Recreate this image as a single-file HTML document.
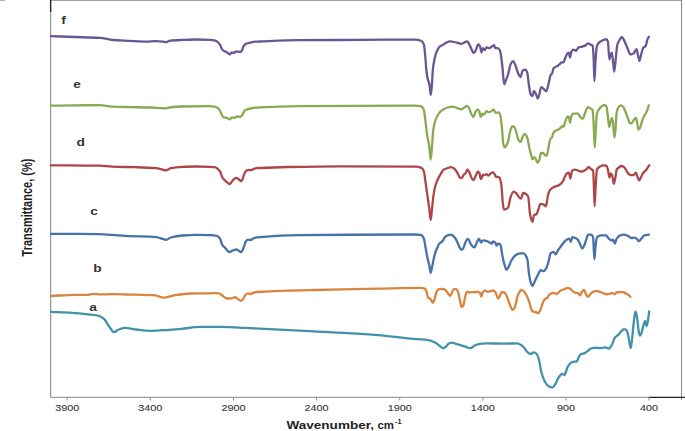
<!DOCTYPE html>
<html><head><meta charset="utf-8"><style>
html,body{margin:0;padding:0;background:#fff;}
body{width:685px;height:431px;overflow:hidden;position:relative;font-family:"Liberation Sans",sans-serif;}
svg{position:absolute;left:0;top:0;}
</style></head><body>
<svg width="685" height="431" viewBox="0 0 685 431">
<rect x="0" y="0" width="685" height="431" fill="#fff"/>
<line x1="0" y1="0.5" x2="5" y2="0.5" stroke="#b0b0b0" stroke-width="1"/>
<line x1="50" y1="0.5" x2="682" y2="0.5" stroke="#a0a0a0" stroke-width="1.2"/>
<line x1="681.5" y1="0" x2="681.5" y2="400" stroke="#858585" stroke-width="1"/>
<line x1="50.6" y1="0" x2="50.6" y2="397.5" stroke="#9a9a9a" stroke-width="1.3"/>
<line x1="50.6" y1="0" x2="50.6" y2="12" stroke="#222" stroke-width="1.3"/>
<line x1="50" y1="397.3" x2="648.5" y2="397.3" stroke="#a0a0a0" stroke-width="1.3"/>
<line x1="648.5" y1="397.3" x2="685" y2="397.3" stroke="#222" stroke-width="1.3"/>
<g stroke="#909090" stroke-width="1">
<line x1="67.2" y1="397" x2="67.2" y2="400.5"/>
<line x1="150.3" y1="397" x2="150.3" y2="400.5"/>
<line x1="233.5" y1="397" x2="233.5" y2="400.5"/>
<line x1="316.6" y1="397" x2="316.6" y2="400.5"/>
<line x1="399.7" y1="397" x2="399.7" y2="400.5"/>
<line x1="482.8" y1="397" x2="482.8" y2="400.5"/>
<line x1="566.0" y1="397" x2="566.0" y2="400.5"/>
<line x1="649.1" y1="397" x2="649.1" y2="400.5"/>
</g>
<g fill="none" stroke-width="2.3" stroke-linejoin="round" stroke-linecap="round">
<path d="M51.00,36.20 C59.00,36.47 67.00,36.72 75.00,37.00 C83.33,37.29 91.67,37.37 100.00,37.90 C104.33,38.17 108.67,39.68 113.00,40.00 C118.67,40.42 124.33,40.53 130.00,40.80 C135.33,41.06 140.67,41.60 146.00,41.60 C149.33,41.60 152.67,41.20 156.00,41.20 C158.33,41.20 160.67,41.45 163.00,41.70 C164.00,41.81 165.00,42.20 166.00,42.20 C167.13,42.20 168.27,40.95 169.40,40.80 C173.80,40.20 178.20,40.09 182.60,39.90 C186.97,39.72 191.33,39.50 195.70,39.50 C200.47,39.50 205.23,39.61 210.00,39.80 C211.47,39.86 212.93,40.02 214.40,40.30 C215.37,40.48 216.33,40.96 217.30,41.60 C218.27,42.24 219.23,43.63 220.20,45.20 C220.80,46.18 221.40,48.37 222.00,49.20 C222.63,50.08 223.27,50.74 223.90,51.10 C224.87,51.65 225.83,51.72 226.80,52.20 C227.77,52.68 228.73,54.30 229.70,54.30 C230.43,54.30 231.17,52.50 231.90,52.50 C232.63,52.50 233.37,52.90 234.10,52.90 C234.83,52.90 235.57,51.40 236.30,51.40 C237.77,51.40 239.23,51.80 240.70,51.80 C241.17,51.80 241.63,51.02 242.10,50.30 C242.60,49.52 243.10,46.68 243.60,46.00 C244.57,44.68 245.53,43.98 246.50,43.60 C247.70,43.13 248.90,42.96 250.10,42.70 C251.83,42.32 253.57,41.82 255.30,41.70 C256.87,41.59 258.43,41.56 260.00,41.50 C273.33,40.99 286.67,40.32 300.00,40.20 C320.00,40.02 340.00,40.00 360.00,39.90 C378.33,39.80 396.67,39.60 415.00,39.60 C417.17,39.60 419.33,40.08 421.50,41.00 C422.30,41.34 423.10,42.40 423.90,44.60 C424.30,45.70 424.70,50.46 425.10,54.40 C425.53,58.66 425.97,67.00 426.40,70.60 C426.83,74.20 427.27,76.75 427.70,78.70 C428.33,81.55 428.97,81.95 429.60,85.20 C429.97,87.08 430.33,94.90 430.70,94.90 C431.13,94.90 431.57,88.60 432.00,83.60 C432.30,80.14 432.60,71.79 432.90,69.00 C433.43,64.05 433.97,61.57 434.50,59.20 C435.30,55.65 436.10,52.78 436.90,51.10 C438.00,48.78 439.10,47.02 440.20,46.20 C441.27,45.40 442.33,45.21 443.40,44.60 C444.20,44.14 445.00,43.40 445.80,43.00 C447.17,42.31 448.53,41.40 449.90,41.40 C452.20,41.40 454.50,42.10 456.80,42.60 C458.33,42.94 459.87,43.90 461.40,43.90 C462.33,43.90 463.27,43.03 464.20,42.60 C465.13,42.17 466.07,41.30 467.00,41.30 C467.63,41.30 468.27,42.63 468.90,43.60 C469.50,44.52 470.10,46.08 470.70,47.30 C471.63,49.19 472.57,52.90 473.50,52.90 C474.13,52.90 474.77,51.86 475.40,51.00 C476.33,49.73 477.27,44.50 478.20,44.50 C478.80,44.50 479.40,45.38 480.00,46.40 C480.50,47.25 481.00,52.50 481.50,52.50 C481.93,52.50 482.37,48.20 482.80,48.20 C483.43,48.20 484.07,50.10 484.70,50.10 C485.30,50.10 485.90,47.30 486.50,47.30 C487.43,47.30 488.37,48.20 489.30,48.20 C490.23,48.20 491.17,47.02 492.10,46.40 C492.73,45.98 493.37,45.10 494.00,45.10 C494.43,45.10 494.87,48.20 495.30,48.20 C496.10,48.20 496.90,48.20 497.70,48.20 C498.50,48.20 499.30,49.39 500.10,51.00 C500.83,52.47 501.57,60.02 502.30,65.90 C502.93,70.98 503.57,84.40 504.20,84.40 C504.80,84.40 505.40,81.29 506.00,79.80 C506.63,78.22 507.27,77.08 507.90,75.20 C508.83,72.43 509.77,65.66 510.70,64.00 C511.50,62.57 512.30,61.20 513.10,61.20 C513.83,61.20 514.57,63.42 515.30,65.00 C516.23,67.02 517.17,71.42 518.10,73.30 C518.90,74.91 519.70,77.00 520.50,77.00 C521.23,77.00 521.97,70.94 522.70,70.50 C523.63,69.94 524.57,69.60 525.50,69.60 C526.13,69.60 526.77,71.27 527.40,73.30 C527.90,74.90 528.40,82.03 528.90,85.10 C529.57,89.20 530.23,94.28 530.90,95.00 C531.43,95.58 531.97,96.00 532.50,96.00 C532.97,96.00 533.43,91.00 533.90,91.00 C534.57,91.00 535.23,92.77 535.90,94.00 C536.53,95.17 537.17,98.50 537.80,98.50 C538.27,98.50 538.73,96.41 539.20,95.00 C539.87,92.99 540.53,87.10 541.20,87.10 C542.03,87.10 542.87,88.31 543.70,89.00 C544.57,89.72 545.43,91.40 546.30,91.40 C546.97,91.40 547.63,87.52 548.30,85.10 C549.07,82.32 549.83,76.58 550.60,75.20 C551.13,74.24 551.67,74.26 552.20,73.30 C552.67,72.46 553.13,68.85 553.60,68.30 C554.60,67.12 555.60,67.06 556.60,66.40 C557.57,65.76 558.53,65.20 559.50,64.40 C560.17,63.85 560.83,62.40 561.50,62.40 C562.17,62.40 562.83,62.40 563.50,62.40 C564.13,62.40 564.77,58.93 565.40,57.50 C566.07,56.00 566.73,54.13 567.40,53.50 C567.87,53.06 568.33,52.60 568.80,52.60 C569.20,52.60 569.60,57.50 570.00,57.50 C570.47,57.50 570.93,52.41 571.40,51.60 C572.03,50.50 572.67,49.60 573.30,49.60 C574.30,49.60 575.30,50.60 576.30,50.60 C576.97,50.60 577.63,47.92 578.30,47.60 C579.60,46.98 580.90,46.98 582.20,46.60 C583.20,46.31 584.20,46.07 585.20,45.60 C586.17,45.15 587.13,43.30 588.10,43.30 C588.97,43.30 589.83,44.28 590.70,44.70 C591.37,45.03 592.03,44.95 592.70,45.60 C593.03,45.92 593.37,52.96 593.70,59.50 C593.93,64.08 594.17,81.20 594.40,81.20 C594.80,81.20 595.20,64.67 595.60,59.50 C596.07,53.47 596.53,46.78 597.00,45.60 C598.00,43.06 599.00,42.40 600.00,41.70 C600.97,41.02 601.93,40.70 602.90,40.30 C604.03,39.84 605.17,39.10 606.30,39.10 C606.83,39.10 607.37,40.16 607.90,41.70 C608.40,43.14 608.90,59.50 609.40,59.50 C609.73,59.50 610.07,56.43 610.40,55.50 C610.87,54.20 611.33,52.60 611.80,52.60 C612.13,52.60 612.47,56.95 612.80,59.50 C613.27,63.07 613.73,71.70 614.20,71.70 C614.70,71.70 615.20,63.82 615.70,59.50 C616.23,54.89 616.77,46.59 617.30,44.70 C618.10,41.86 618.90,41.06 619.70,39.70 C620.37,38.57 621.03,36.80 621.70,36.80 C622.20,36.80 622.70,37.93 623.20,38.70 C624.00,39.94 624.80,41.90 625.60,43.70 C626.40,45.50 627.20,47.85 628.00,49.60 C628.83,51.42 629.67,54.50 630.50,54.50 C631.50,54.50 632.50,54.04 633.50,53.50 C634.50,52.96 635.50,49.20 636.50,49.20 C636.93,49.20 637.37,52.74 637.80,54.50 C638.33,56.67 638.87,61.00 639.40,61.00 C640.07,61.00 640.73,55.70 641.40,53.50 C642.07,51.30 642.73,48.36 643.40,47.60 C644.17,46.72 644.93,46.95 645.70,46.00 C646.23,45.34 646.77,41.02 647.30,39.70 C647.83,38.38 648.37,37.77 648.90,36.80" stroke="#6b5694"/>
<path d="M51.00,105.70 C59.00,105.60 67.00,105.48 75.00,105.40 C83.33,105.32 91.67,105.20 100.00,105.20 C102.00,105.20 104.00,105.56 106.00,105.80 C108.00,106.04 110.00,106.61 112.00,106.70 C118.00,106.97 124.00,106.97 130.00,107.10 C136.67,107.24 143.33,107.30 150.00,107.50 C154.33,107.63 158.67,107.94 163.00,108.20 C164.00,108.26 165.00,108.40 166.00,108.40 C167.13,108.40 168.27,107.65 169.40,107.50 C173.80,106.92 178.20,106.60 182.60,106.50 C191.33,106.31 200.07,106.20 208.80,106.20 C210.67,106.20 212.53,106.36 214.40,106.60 C215.37,106.73 216.33,107.15 217.30,107.70 C218.27,108.25 219.23,109.47 220.20,111.00 C220.80,111.95 221.40,114.36 222.00,115.30 C222.63,116.29 223.27,117.33 223.90,117.50 C224.87,117.75 225.83,117.69 226.80,117.90 C227.77,118.11 228.73,119.30 229.70,119.30 C230.43,119.30 231.17,117.50 231.90,117.50 C232.87,117.50 233.83,117.90 234.80,117.90 C235.53,117.90 236.27,116.40 237.00,116.40 C238.23,116.40 239.47,116.80 240.70,116.80 C241.30,116.80 241.90,115.51 242.50,114.60 C243.10,113.69 243.70,111.53 244.30,111.00 C245.53,109.92 246.77,109.52 248.00,109.10 C249.43,108.61 250.87,108.20 252.30,108.00 C254.87,107.64 257.43,107.42 260.00,107.30 C273.33,106.66 286.67,106.33 300.00,106.20 C338.33,105.82 376.67,105.60 415.00,105.60 C417.17,105.60 419.33,105.83 421.50,106.40 C422.30,106.61 423.10,108.05 423.90,110.20 C424.47,111.73 425.03,118.09 425.60,122.40 C426.13,126.45 426.67,131.81 427.20,135.30 C427.90,139.88 428.60,141.82 429.30,146.70 C429.77,149.95 430.23,159.70 430.70,159.70 C431.13,159.70 431.57,151.69 432.00,146.70 C432.40,142.10 432.80,133.51 433.20,130.50 C433.73,126.49 434.27,124.31 434.80,122.40 C435.50,119.89 436.20,118.07 436.90,116.70 C438.00,114.54 439.10,112.89 440.20,111.80 C441.27,110.74 442.33,110.02 443.40,109.40 C444.77,108.61 446.13,107.83 447.50,107.50 C449.13,107.10 450.77,106.70 452.40,106.70 C454.00,106.70 455.60,107.53 457.20,108.00 C458.57,108.40 459.93,109.30 461.30,109.30 C462.10,109.30 462.90,108.44 463.70,108.00 C464.90,107.34 466.10,106.00 467.30,106.00 C468.00,106.00 468.70,107.55 469.40,108.80 C470.10,110.05 470.80,113.34 471.50,114.50 C472.17,115.61 472.83,116.90 473.50,116.90 C474.13,116.90 474.77,113.21 475.40,112.10 C476.10,110.87 476.80,109.30 477.50,109.30 C478.07,109.30 478.63,110.23 479.20,111.20 C479.73,112.11 480.27,116.90 480.80,116.90 C481.33,116.90 481.87,113.70 482.40,113.70 C482.93,113.70 483.47,114.50 484.00,114.50 C484.83,114.50 485.67,111.20 486.50,111.20 C487.30,111.20 488.10,112.10 488.90,112.10 C489.70,112.10 490.50,111.58 491.30,111.20 C492.13,110.81 492.97,109.60 493.80,109.60 C494.33,109.60 494.87,112.90 495.40,112.90 C496.50,112.90 497.60,112.50 498.70,112.50 C499.23,112.50 499.77,113.78 500.30,115.30 C500.83,116.82 501.37,122.54 501.90,127.50 C502.37,131.84 502.83,142.12 503.30,144.00 C503.77,145.88 504.23,147.40 504.70,147.40 C505.17,147.40 505.63,146.63 506.10,146.00 C506.80,145.05 507.50,143.40 508.20,141.20 C508.90,139.00 509.60,132.80 510.30,130.70 C511.00,128.60 511.70,126.20 512.40,126.20 C513.10,126.20 513.80,126.68 514.50,127.30 C515.20,127.92 515.90,131.31 516.60,133.50 C517.30,135.69 518.00,139.69 518.70,140.50 C519.37,141.27 520.03,141.90 520.70,141.90 C521.40,141.90 522.10,137.32 522.80,136.30 C523.50,135.28 524.20,134.20 524.90,134.20 C525.70,134.20 526.50,135.85 527.30,137.70 C527.90,139.09 528.50,144.03 529.10,146.70 C529.80,149.82 530.50,152.72 531.20,155.10 C531.67,156.68 532.13,159.30 532.60,159.30 C533.13,159.30 533.67,157.20 534.20,157.20 C534.67,157.20 535.13,157.96 535.60,158.60 C536.20,159.43 536.80,162.80 537.40,162.80 C538.03,162.80 538.67,161.42 539.30,160.00 C539.83,158.81 540.37,153.00 540.90,153.00 C541.60,153.00 542.30,153.00 543.00,153.00 C543.70,153.00 544.40,154.70 545.10,155.10 C545.67,155.43 546.23,155.80 546.80,155.80 C547.40,155.80 548.00,149.46 548.60,146.70 C549.20,143.94 549.80,140.24 550.40,139.10 C550.97,138.02 551.53,138.03 552.10,137.00 C552.53,136.21 552.97,133.49 553.40,132.80 C554.10,131.68 554.80,131.15 555.50,130.70 C556.43,130.10 557.37,129.92 558.30,129.40 C559.00,129.01 559.70,128.56 560.40,128.00 C561.10,127.44 561.80,125.90 562.50,125.90 C562.83,125.90 563.17,126.90 563.50,126.90 C564.17,126.90 564.83,122.32 565.50,120.70 C566.20,119.00 566.90,116.50 567.60,116.50 C568.07,116.50 568.53,116.75 569.00,117.20 C569.33,117.52 569.67,122.70 570.00,122.70 C570.37,122.70 570.73,118.17 571.10,117.20 C571.80,115.35 572.50,113.70 573.20,113.70 C573.90,113.70 574.60,113.70 575.30,113.70 C575.97,113.70 576.63,113.30 577.30,113.30 C578.00,113.30 578.70,114.68 579.40,115.50 C580.10,116.32 580.80,118.05 581.50,118.30 C581.97,118.46 582.43,118.60 582.90,118.60 C583.60,118.60 584.30,114.77 585.00,113.00 C585.67,111.32 586.33,108.91 587.00,108.20 C587.47,107.70 587.93,107.20 588.40,107.20 C588.87,107.20 589.33,107.96 589.80,108.20 C590.40,108.51 591.00,108.51 591.60,108.90 C591.93,109.11 592.27,109.46 592.60,110.30 C592.93,111.14 593.27,117.38 593.60,122.70 C593.97,128.56 594.33,147.70 594.70,147.70 C595.07,147.70 595.43,135.50 595.80,129.70 C596.13,124.43 596.47,115.90 596.80,114.40 C597.47,111.39 598.13,110.65 598.80,109.60 C599.73,108.13 600.67,107.05 601.60,106.40 C602.53,105.75 603.47,105.00 604.40,105.00 C605.10,105.00 605.80,105.66 606.50,106.80 C606.93,107.50 607.37,112.60 607.80,115.80 C608.27,119.25 608.73,126.90 609.20,126.90 C609.67,126.90 610.13,122.83 610.60,121.40 C611.07,119.97 611.53,117.90 612.00,117.90 C612.33,117.90 612.67,120.55 613.00,122.70 C613.47,125.71 613.93,137.30 614.40,137.30 C614.77,137.30 615.13,133.18 615.50,129.70 C615.87,126.22 616.23,115.05 616.60,113.00 C617.17,109.83 617.73,108.25 618.30,107.50 C619.20,106.32 620.10,105.40 621.00,105.40 C621.70,105.40 622.40,106.10 623.10,106.80 C623.80,107.50 624.50,109.40 625.20,111.00 C626.13,113.13 627.07,116.23 628.00,118.60 C628.67,120.29 629.33,123.40 630.00,123.40 C630.70,123.40 631.40,123.09 632.10,122.70 C632.80,122.31 633.50,120.03 634.20,119.30 C634.80,118.68 635.40,117.90 636.00,117.90 C636.33,117.90 636.67,120.45 637.00,122.00 C637.47,124.17 637.93,129.70 638.40,129.70 C638.87,129.70 639.33,128.99 639.80,128.30 C640.47,127.32 641.13,123.91 641.80,122.00 C642.50,120.00 643.20,117.93 643.90,116.50 C644.60,115.07 645.30,114.39 646.00,113.00 C646.57,111.88 647.13,110.47 647.70,108.90 C648.07,107.88 648.43,106.57 648.80,105.40" stroke="#8aaa52"/>
<path d="M51.00,165.30 C67.33,165.43 83.67,165.41 100.00,165.70 C104.00,165.77 108.00,166.55 112.00,166.70 C119.67,166.98 127.33,166.97 135.00,167.20 C142.10,167.41 149.20,167.57 156.30,168.20 C158.20,168.37 160.10,169.10 162.00,169.50 C163.37,169.79 164.73,170.30 166.10,170.30 C167.63,170.30 169.17,168.50 170.70,168.20 C174.67,167.43 178.63,167.09 182.60,166.90 C186.97,166.69 191.33,166.50 195.70,166.50 C200.47,166.50 205.23,166.62 210.00,166.80 C211.47,166.86 212.93,166.97 214.40,167.20 C215.37,167.35 216.33,167.81 217.30,168.40 C218.27,168.99 219.23,170.13 220.20,171.70 C220.93,172.89 221.67,176.30 222.40,177.50 C223.13,178.70 223.87,179.36 224.60,180.10 C225.57,181.07 226.53,181.87 227.50,182.60 C228.23,183.16 228.97,184.10 229.70,184.10 C230.43,184.10 231.17,182.35 231.90,181.50 C232.63,180.65 233.37,179.51 234.10,179.00 C234.83,178.49 235.57,177.90 236.30,177.90 C237.03,177.90 237.77,178.54 238.50,179.00 C239.33,179.53 240.17,181.20 241.00,181.20 C241.50,181.20 242.00,180.18 242.50,179.30 C243.10,178.24 243.70,175.11 244.30,173.90 C245.03,172.42 245.77,170.98 246.50,170.60 C247.23,170.22 247.97,169.90 248.70,169.90 C249.43,169.90 250.17,170.20 250.90,170.20 C251.87,170.20 252.83,169.08 253.80,168.80 C254.77,168.52 255.73,168.29 256.70,168.20 C257.80,168.10 258.90,168.05 260.00,168.00 C269.20,167.55 278.40,167.19 287.60,167.00 C305.07,166.64 322.53,166.30 340.00,166.30 C365.00,166.30 390.00,166.35 415.00,166.70 C417.17,166.73 419.33,167.05 421.50,167.80 C422.30,168.08 423.10,169.37 423.90,171.40 C424.47,172.84 425.03,178.80 425.60,182.70 C426.13,186.37 426.67,190.34 427.20,194.10 C427.90,199.03 428.60,203.42 429.30,208.70 C429.77,212.22 430.23,220.10 430.70,220.10 C431.13,220.10 431.57,212.46 432.00,208.70 C432.57,203.78 433.13,197.70 433.70,194.10 C434.23,190.71 434.77,187.92 435.30,186.00 C436.10,183.12 436.90,181.26 437.70,179.50 C438.93,176.78 440.17,174.71 441.40,172.80 C442.20,171.56 443.00,169.96 443.80,169.50 C444.73,168.96 445.67,168.82 446.60,168.50 C448.03,168.01 449.47,167.10 450.90,167.10 C452.00,167.10 453.10,167.79 454.20,168.50 C455.17,169.13 456.13,170.80 457.10,172.30 C458.03,173.75 458.97,177.26 459.90,177.60 C460.53,177.83 461.17,178.00 461.80,178.00 C462.43,178.00 463.07,175.36 463.70,174.70 C464.33,174.04 464.97,173.98 465.60,173.30 C466.23,172.62 466.87,169.50 467.50,169.50 C468.13,169.50 468.77,171.12 469.40,172.30 C470.20,173.79 471.00,177.50 471.80,178.50 C472.43,179.29 473.07,180.10 473.70,180.10 C474.33,180.10 474.97,177.41 475.60,176.10 C476.37,174.51 477.13,171.40 477.90,171.40 C478.40,171.40 478.90,172.33 479.40,173.30 C479.87,174.21 480.33,179.00 480.80,179.00 C481.10,179.00 481.40,178.49 481.70,178.00 C482.03,177.45 482.37,174.70 482.70,174.70 C483.33,174.70 483.97,175.20 484.60,175.20 C485.23,175.20 485.87,174.20 486.50,174.20 C487.13,174.20 487.77,175.70 488.40,175.70 C489.03,175.70 489.67,174.25 490.30,173.80 C491.23,173.14 492.17,172.30 493.10,172.30 C493.60,172.30 494.10,173.49 494.60,174.20 C495.17,175.01 495.73,177.00 496.30,177.00 C496.67,177.00 497.03,176.90 497.40,176.90 C498.10,176.90 498.80,177.21 499.50,177.70 C500.13,178.15 500.77,181.31 501.40,185.30 C501.83,188.03 502.27,198.25 502.70,201.90 C503.10,205.27 503.50,209.50 503.90,209.50 C504.77,209.50 505.63,209.24 506.50,208.90 C507.13,208.65 507.77,208.04 508.40,207.00 C509.03,205.96 509.67,199.94 510.30,198.10 C511.37,195.00 512.43,191.70 513.50,191.70 C514.33,191.70 515.17,192.38 516.00,193.00 C517.07,193.79 518.13,196.45 519.20,197.40 C519.83,197.96 520.47,198.70 521.10,198.70 C521.77,198.70 522.43,193.00 523.10,193.00 C524.17,193.00 525.23,193.54 526.30,194.20 C526.93,194.59 527.57,195.29 528.20,196.80 C528.83,198.31 529.47,211.18 530.10,214.60 C530.53,216.94 530.97,218.69 531.40,219.70 C531.80,220.63 532.20,221.70 532.60,221.70 C533.03,221.70 533.47,215.73 533.90,215.30 C534.77,214.43 535.63,214.74 536.50,214.00 C537.13,213.46 537.77,211.18 538.40,209.50 C539.03,207.82 539.67,203.80 540.30,203.80 C541.37,203.80 542.43,204.07 543.50,204.40 C544.33,204.66 545.17,206.40 546.00,206.40 C546.63,206.40 547.27,197.82 547.90,195.50 C548.53,193.18 549.17,191.32 549.80,190.40 C550.67,189.14 551.53,188.48 552.40,187.90 C553.23,187.34 554.07,186.94 554.90,186.60 C556.20,186.06 557.50,185.92 558.80,185.30 C559.63,184.90 560.47,184.23 561.30,183.40 C561.93,182.77 562.57,181.91 563.20,180.80 C563.80,179.74 564.40,177.47 565.00,176.40 C565.80,174.97 566.60,173.53 567.40,173.10 C567.87,172.85 568.33,172.60 568.80,172.60 C569.33,172.60 569.87,178.50 570.40,178.50 C570.93,178.50 571.47,170.94 572.00,170.60 C573.10,169.90 574.20,169.60 575.30,169.60 C576.30,169.60 577.30,170.26 578.30,170.60 C579.27,170.93 580.23,171.60 581.20,171.60 C582.20,171.60 583.20,171.03 584.20,170.60 C585.00,170.26 585.80,169.83 586.60,169.20 C587.23,168.70 587.87,167.00 588.50,167.00 C589.37,167.00 590.23,168.54 591.10,169.20 C591.77,169.71 592.43,169.58 593.10,170.60 C593.40,171.06 593.70,182.07 594.00,189.30 C594.20,194.12 594.40,206.10 594.60,206.10 C594.93,206.10 595.27,192.39 595.60,187.30 C596.07,180.17 596.53,170.56 597.00,169.60 C598.00,167.53 599.00,167.22 600.00,166.60 C600.97,166.00 601.93,165.30 602.90,165.30 C604.03,165.30 605.17,165.38 606.30,165.60 C606.83,165.70 607.37,167.78 607.90,169.60 C608.40,171.30 608.90,177.50 609.40,177.50 C609.87,177.50 610.33,173.50 610.80,173.50 C611.27,173.50 611.73,174.47 612.20,175.50 C612.73,176.68 613.27,183.80 613.80,183.80 C614.33,183.80 614.87,180.07 615.40,177.50 C615.83,175.41 616.27,170.38 616.70,169.60 C617.37,168.39 618.03,168.07 618.70,167.60 C619.70,166.89 620.70,166.00 621.70,166.00 C622.67,166.00 623.63,166.80 624.60,167.60 C625.60,168.43 626.60,171.47 627.60,172.60 C628.57,173.70 629.53,175.10 630.50,175.10 C631.50,175.10 632.50,175.10 633.50,175.10 C634.30,175.10 635.10,172.60 635.90,172.60 C636.40,172.60 636.90,175.24 637.40,176.50 C637.93,177.84 638.47,180.40 639.00,180.40 C639.80,180.40 640.60,177.92 641.40,176.50 C642.07,175.31 642.73,173.41 643.40,172.60 C644.17,171.67 644.93,171.45 645.70,170.60 C646.57,169.64 647.43,167.81 648.30,166.60 C648.63,166.14 648.97,165.73 649.30,165.30" stroke="#ad4649"/>
<path d="M51.00,233.90 C67.33,233.97 83.67,233.95 100.00,234.10 C104.00,234.14 108.00,234.62 112.00,234.90 C118.00,235.31 124.00,236.01 130.00,236.20 C136.57,236.41 143.13,236.36 149.70,236.60 C151.90,236.68 154.10,236.90 156.30,237.20 C158.20,237.45 160.10,238.07 162.00,238.60 C163.37,238.98 164.73,239.90 166.10,239.90 C167.63,239.90 169.17,237.92 170.70,237.50 C174.67,236.41 178.63,235.79 182.60,235.50 C186.97,235.18 191.33,234.90 195.70,234.90 C200.47,234.90 205.23,235.02 210.00,235.20 C212.43,235.29 214.87,235.45 217.30,236.00 C218.27,236.22 219.23,237.51 220.20,239.00 C220.93,240.13 221.67,244.15 222.40,245.20 C223.13,246.25 223.87,246.54 224.60,247.30 C225.57,248.30 226.53,249.79 227.50,250.60 C228.23,251.22 228.97,252.10 229.70,252.10 C230.67,252.10 231.63,250.97 232.60,250.60 C233.83,250.13 235.07,249.50 236.30,249.50 C237.27,249.50 238.23,250.51 239.20,251.00 C239.93,251.37 240.67,252.10 241.40,252.10 C242.13,252.10 242.87,249.42 243.60,247.70 C244.33,245.98 245.07,242.43 245.80,241.50 C246.53,240.57 247.27,239.70 248.00,239.70 C248.83,239.70 249.67,240.00 250.50,240.00 C251.60,240.00 252.70,238.63 253.80,238.20 C254.77,237.82 255.73,237.38 256.70,237.30 C258.23,237.18 259.77,237.18 261.30,237.10 C265.20,236.89 269.10,236.40 273.00,236.20 C282.00,235.73 291.00,235.31 300.00,235.20 C338.33,234.73 376.67,234.50 415.00,234.50 C417.17,234.50 419.33,234.66 421.50,235.10 C422.30,235.26 423.10,236.83 423.90,238.80 C424.47,240.19 425.03,244.63 425.60,247.70 C426.13,250.59 426.67,254.11 427.20,256.70 C427.90,260.11 428.60,262.30 429.30,265.60 C429.77,267.80 430.23,272.90 430.70,272.90 C431.13,272.90 431.57,269.18 432.00,267.20 C432.57,264.62 433.13,261.58 433.70,259.10 C434.23,256.76 434.77,254.23 435.30,252.60 C436.10,250.16 436.90,248.63 437.70,246.90 C438.27,245.68 438.83,244.06 439.40,243.50 C440.07,242.84 440.73,242.73 441.40,242.20 C441.87,241.83 442.33,241.41 442.80,240.80 C443.30,240.15 443.80,238.66 444.30,238.00 C444.93,237.17 445.57,236.49 446.20,236.10 C446.97,235.63 447.73,235.32 448.50,235.10 C449.30,234.87 450.10,234.60 450.90,234.60 C451.70,234.60 452.50,235.45 453.30,236.10 C454.10,236.75 454.90,237.70 455.70,238.90 C456.47,240.05 457.23,242.05 458.00,243.70 C458.63,245.06 459.27,246.85 459.90,247.90 C460.37,248.68 460.83,249.80 461.30,249.80 C461.93,249.80 462.57,249.14 463.20,248.40 C463.83,247.66 464.47,244.58 465.10,243.20 C465.90,241.45 466.70,238.90 467.50,238.90 C467.97,238.90 468.43,239.41 468.90,239.90 C469.53,240.57 470.17,243.10 470.80,244.10 C471.60,245.36 472.40,246.65 473.20,247.00 C473.67,247.20 474.13,247.40 474.60,247.40 C475.10,247.40 475.60,245.20 476.10,244.10 C476.73,242.70 477.37,240.80 478.00,239.90 C478.30,239.47 478.60,238.90 478.90,238.90 C479.37,238.90 479.83,240.58 480.30,241.30 C480.63,241.81 480.97,242.70 481.30,242.70 C481.60,242.70 481.90,240.99 482.20,240.80 C482.67,240.50 483.13,240.30 483.60,240.30 C484.23,240.30 484.87,240.63 485.50,240.80 C486.13,240.97 486.77,241.06 487.40,241.30 C487.90,241.49 488.40,241.98 488.90,242.20 C489.37,242.41 489.83,242.48 490.30,242.70 C490.77,242.92 491.23,243.70 491.70,243.70 C492.17,243.70 492.63,241.30 493.10,241.30 C493.60,241.30 494.10,241.80 494.60,242.20 C494.90,242.44 495.20,242.75 495.50,243.20 C495.83,243.70 496.17,245.60 496.50,245.60 C496.97,245.60 497.43,243.70 497.90,243.70 C498.53,243.70 499.17,243.84 499.80,244.10 C500.10,244.22 500.40,244.86 500.70,245.60 C501.23,246.92 501.77,252.56 502.30,255.30 C502.93,258.55 503.57,261.53 504.20,263.70 C504.93,266.21 505.67,269.80 506.40,269.80 C507.20,269.80 508.00,267.84 508.80,266.40 C509.43,265.26 510.07,263.06 510.70,261.80 C511.63,259.95 512.57,258.25 513.50,257.20 C514.60,255.96 515.70,254.90 516.80,254.40 C517.87,253.91 518.93,253.40 520.00,253.40 C521.23,253.40 522.47,253.40 523.70,253.40 C524.50,253.40 525.30,254.85 526.10,256.20 C526.57,256.99 527.03,258.04 527.50,260.00 C527.97,261.96 528.43,270.02 528.90,273.10 C529.57,277.50 530.23,281.22 530.90,283.00 C531.43,284.43 531.97,286.00 532.50,286.00 C533.30,286.00 534.10,282.65 534.90,281.00 C535.87,279.01 536.83,276.85 537.80,275.10 C538.80,273.29 539.80,270.20 540.80,270.20 C541.77,270.20 542.73,271.20 543.70,271.20 C544.57,271.20 545.43,269.67 546.30,268.20 C546.97,267.07 547.63,264.52 548.30,262.30 C549.07,259.74 549.83,254.14 550.60,253.40 C551.60,252.43 552.60,251.80 553.60,251.80 C554.27,251.80 554.93,254.40 555.60,254.40 C556.57,254.40 557.53,250.94 558.50,249.50 C559.50,248.01 560.50,246.82 561.50,245.50 C562.50,244.18 563.50,242.61 564.50,241.60 C565.47,240.62 566.43,239.61 567.40,239.20 C568.07,238.91 568.73,238.60 569.40,238.60 C569.87,238.60 570.33,242.00 570.80,242.00 C571.30,242.00 571.80,237.20 572.30,237.20 C573.30,237.20 574.30,237.62 575.30,238.00 C575.97,238.25 576.63,238.62 577.30,239.20 C578.13,239.93 578.97,241.93 579.80,243.50 C580.60,245.01 581.40,248.50 582.20,248.50 C582.87,248.50 583.53,246.83 584.20,245.50 C584.87,244.17 585.53,241.43 586.20,239.60 C586.83,237.86 587.47,234.70 588.10,234.70 C589.10,234.70 590.10,234.70 591.10,234.70 C591.77,234.70 592.43,235.71 593.10,237.60 C593.53,238.83 593.97,259.30 594.40,259.30 C594.80,259.30 595.20,248.66 595.60,245.50 C596.07,241.82 596.53,237.68 597.00,237.20 C598.33,235.84 599.67,235.30 601.00,235.30 C602.63,235.30 604.27,235.30 605.90,235.30 C606.87,235.30 607.83,237.79 608.80,238.60 C609.80,239.44 610.80,240.60 611.80,240.60 C612.27,240.60 612.73,239.60 613.20,239.60 C613.73,239.60 614.27,243.50 614.80,243.50 C615.43,243.50 616.07,239.54 616.70,238.60 C617.70,237.11 618.70,235.99 619.70,235.60 C621.00,235.10 622.30,234.70 623.60,234.70 C624.93,234.70 626.27,235.16 627.60,235.60 C628.90,236.03 630.20,238.00 631.50,238.00 C632.50,238.00 633.50,237.60 634.50,237.60 C635.17,237.60 635.83,238.16 636.50,238.60 C637.33,239.16 638.17,241.20 639.00,241.20 C639.80,241.20 640.60,239.47 641.40,238.60 C642.40,237.51 643.40,235.55 644.40,235.30 C645.90,234.92 647.40,234.90 648.90,234.70" stroke="#4771a8"/>
<path d="M51.20,296.00 C59.07,295.60 66.93,294.80 74.80,294.80 C78.87,294.80 82.93,294.80 87.00,294.80 C89.13,294.80 91.27,293.80 93.40,293.80 C95.47,293.80 97.53,294.40 99.60,294.40 C103.73,294.40 107.87,294.20 112.00,294.20 C119.67,294.20 127.33,294.54 135.00,294.70 C141.33,294.84 147.67,294.83 154.00,295.10 C157.20,295.24 160.40,297.70 163.60,297.70 C167.37,297.70 171.13,295.64 174.90,295.10 C180.27,294.34 185.63,293.57 191.00,293.50 C195.67,293.44 200.33,293.45 205.00,293.40 C207.93,293.37 210.87,293.20 213.80,293.20 C215.53,293.20 217.27,293.27 219.00,293.40 C220.17,293.49 221.33,294.85 222.50,295.60 C223.97,296.54 225.43,298.50 226.90,298.50 C228.37,298.50 229.83,298.42 231.30,298.30 C232.60,298.20 233.90,297.10 235.20,297.10 C236.07,297.10 236.93,298.54 237.80,299.10 C238.83,299.76 239.87,300.80 240.90,300.80 C241.63,300.80 242.37,299.90 243.10,299.10 C243.83,298.30 244.57,295.81 245.30,295.10 C246.17,294.26 247.03,293.40 247.90,293.40 C248.77,293.40 249.63,294.00 250.50,294.00 C251.67,294.00 252.83,292.68 254.00,292.50 C257.67,291.93 261.33,291.83 265.00,291.60 C268.33,291.39 271.67,291.23 275.00,291.10 C288.07,290.60 301.13,290.31 314.20,290.00 C335.63,289.49 357.07,289.12 378.50,288.70 C392.40,288.43 406.30,287.90 420.20,287.90 C421.17,287.90 422.13,288.03 423.10,288.20 C424.00,288.36 424.90,288.71 425.80,289.60 C426.23,290.03 426.67,292.48 427.10,294.00 C427.47,295.29 427.83,297.77 428.20,298.00 C428.83,298.40 429.47,298.26 430.10,298.60 C430.57,298.85 431.03,299.89 431.50,300.60 C431.97,301.31 432.43,302.90 432.90,302.90 C433.43,302.90 433.97,300.81 434.50,299.30 C435.10,297.60 435.70,293.65 436.30,292.30 C436.87,291.03 437.43,289.85 438.00,289.60 C439.17,289.09 440.33,288.80 441.50,288.80 C442.67,288.80 443.83,289.13 445.00,289.60 C445.90,289.96 446.80,292.00 447.70,293.10 C448.50,294.08 449.30,295.90 450.10,295.90 C450.73,295.90 451.37,293.44 452.00,292.30 C452.60,291.22 453.20,289.20 453.80,289.20 C454.67,289.20 455.53,289.20 456.40,289.20 C457.00,289.20 457.60,290.79 458.20,292.30 C458.77,293.73 459.33,297.71 459.90,300.10 C460.50,302.63 461.10,307.10 461.70,307.10 C462.27,307.10 462.83,306.33 463.40,305.40 C464.00,304.41 464.60,298.74 465.20,296.60 C465.77,294.58 466.33,291.80 466.90,291.80 C468.03,291.80 469.17,292.30 470.30,292.30 C471.53,292.30 472.77,292.25 474.00,292.20 C475.47,292.14 476.93,291.80 478.40,291.80 C478.97,291.80 479.53,292.45 480.10,293.20 C480.50,293.73 480.90,296.60 481.30,296.60 C481.77,296.60 482.23,293.22 482.70,292.50 C483.43,291.37 484.17,290.30 484.90,290.30 C485.87,290.30 486.83,291.80 487.80,291.80 C488.80,291.80 489.80,291.35 490.80,291.10 C491.77,290.86 492.73,290.30 493.70,290.30 C494.43,290.30 495.17,291.96 495.90,293.20 C496.63,294.44 497.37,298.40 498.10,298.40 C498.57,298.40 499.03,297.55 499.50,296.90 C500.23,295.88 500.97,292.20 501.70,292.20 C502.67,292.20 503.63,292.30 504.60,292.50 C505.33,292.65 506.07,294.68 506.80,296.20 C507.77,298.20 508.73,302.00 509.70,304.20 C510.70,306.48 511.70,310.00 512.70,310.00 C513.43,310.00 514.17,308.52 514.90,307.10 C515.87,305.22 516.83,297.55 517.80,295.40 C519.00,292.73 520.20,290.00 521.40,290.00 C522.37,290.00 523.33,290.92 524.30,291.80 C525.30,292.71 526.30,294.81 527.30,296.90 C528.03,298.43 528.77,300.50 529.50,302.70 C530.20,304.80 530.90,309.07 531.60,310.00 C532.33,310.98 533.07,311.58 533.80,311.80 C534.53,312.02 535.27,312.01 536.00,312.20 C536.73,312.39 537.47,313.20 538.20,313.20 C538.93,313.20 539.67,311.43 540.40,310.00 C541.13,308.57 541.87,305.25 542.60,303.50 C543.33,301.75 544.07,299.64 544.80,299.10 C545.53,298.56 546.27,298.62 547.00,298.10 C547.73,297.58 548.47,295.28 549.20,294.70 C550.17,293.93 551.13,293.50 552.10,293.20 C552.67,293.02 553.23,292.80 553.80,292.80 C554.77,292.80 555.73,294.00 556.70,294.00 C557.90,294.00 559.10,291.47 560.30,290.80 C561.53,290.11 562.77,289.81 564.00,289.30 C565.20,288.81 566.40,287.80 567.60,287.80 C568.57,287.80 569.53,288.34 570.50,288.90 C571.23,289.33 571.97,290.90 572.70,291.40 C573.70,292.08 574.70,292.54 575.70,292.80 C576.40,292.98 577.10,292.98 577.80,293.20 C578.53,293.43 579.27,295.40 580.00,295.40 C580.50,295.40 581.00,293.23 581.50,292.50 C582.23,291.43 582.97,290.00 583.70,290.00 C584.17,290.00 584.63,291.02 585.10,291.80 C585.60,292.63 586.10,294.69 586.60,295.40 C587.10,296.11 587.60,296.90 588.10,296.90 C588.83,296.90 589.57,294.72 590.30,294.00 C591.27,293.06 592.23,292.26 593.20,291.80 C594.17,291.34 595.13,290.80 596.10,290.80 C597.30,290.80 598.50,291.42 599.70,291.80 C600.93,292.19 602.17,292.73 603.40,293.20 C604.37,293.57 605.33,294.30 606.30,294.30 C607.53,294.30 608.77,293.91 610.00,293.70 C610.97,293.54 611.93,293.20 612.90,293.20 C613.53,293.20 614.17,294.30 614.80,294.30 C615.37,294.30 615.93,292.61 616.50,292.50 C617.50,292.30 618.50,292.20 619.50,292.20 C620.70,292.20 621.90,292.20 623.10,292.20 C624.07,292.20 625.03,293.23 626.00,293.70 C626.73,294.05 627.47,294.24 628.20,294.70 C628.93,295.16 629.67,296.17 630.40,296.90" stroke="#da853f"/>
<path d="M51.20,311.80 C58.17,312.13 65.13,312.34 72.10,312.80 C77.47,313.15 82.83,313.76 88.20,314.40 C91.93,314.84 95.67,315.04 99.40,316.00 C101.00,316.41 102.60,317.73 104.20,319.20 C105.80,320.67 107.40,324.20 109.00,326.30 C110.63,328.45 112.27,332.10 113.90,332.10 C115.50,332.10 117.10,330.06 118.70,329.50 C120.83,328.76 122.97,327.90 125.10,327.90 C128.83,327.90 132.57,329.08 136.30,329.50 C141.13,330.04 145.97,330.80 150.80,330.80 C156.70,330.80 162.60,330.17 168.50,329.80 C172.77,329.53 177.03,329.25 181.30,328.90 C187.73,328.37 194.17,326.90 200.60,326.90 C207.00,326.90 213.40,326.90 219.80,326.90 C226.23,326.90 232.67,327.31 239.10,327.60 C242.73,327.76 246.37,328.01 250.00,328.20 C271.40,329.33 292.80,330.24 314.20,331.40 C335.63,332.56 357.07,333.50 378.50,335.20 C389.20,336.05 399.90,337.83 410.60,338.70 C415.50,339.10 420.40,339.16 425.30,339.70 C427.00,339.89 428.70,340.25 430.40,340.70 C432.10,341.15 433.80,341.89 435.50,342.80 C436.87,343.53 438.23,344.85 439.60,345.80 C440.80,346.64 442.00,348.20 443.20,348.20 C444.07,348.20 444.93,347.26 445.80,346.60 C446.80,345.83 447.80,343.95 448.80,343.50 C449.83,343.03 450.87,342.60 451.90,342.60 C453.27,342.60 454.63,343.40 456.00,343.80 C457.70,344.30 459.40,344.78 461.10,345.30 C462.80,345.82 464.50,346.36 466.20,346.90 C467.57,347.33 468.93,348.20 470.30,348.20 C471.67,348.20 473.03,346.53 474.40,345.80 C475.40,345.26 476.40,344.49 477.40,344.30 C480.40,343.74 483.40,343.40 486.40,343.40 C492.27,343.40 498.13,343.60 504.00,343.60 C508.43,343.60 512.87,343.40 517.30,343.40 C519.13,343.40 520.97,344.92 522.80,346.30 C524.27,347.40 525.73,350.54 527.20,351.80 C528.30,352.74 529.40,354.00 530.50,354.00 C531.60,354.00 532.70,352.40 533.80,352.40 C534.77,352.40 535.73,353.10 536.70,354.00 C537.43,354.68 538.17,357.07 538.90,359.50 C539.77,362.38 540.63,369.63 541.50,372.70 C542.60,376.59 543.70,379.54 544.80,381.50 C545.90,383.46 547.00,385.29 548.10,385.90 C549.57,386.72 551.03,387.40 552.50,387.40 C553.50,387.40 554.50,385.29 555.50,383.80 C556.60,382.16 557.70,378.67 558.80,377.20 C559.90,375.73 561.00,373.90 562.10,373.90 C562.83,373.90 563.57,375.00 564.30,375.00 C565.40,375.00 566.50,369.08 567.60,367.20 C568.70,365.32 569.80,363.37 570.90,362.80 C572.03,362.21 573.17,361.93 574.30,361.70 C575.17,361.52 576.03,361.56 576.90,361.30 C577.50,361.12 578.10,358.38 578.70,357.30 C579.43,355.98 580.17,354.25 580.90,354.00 C582.00,353.62 583.10,353.72 584.20,353.40 C585.30,353.08 586.40,351.91 587.50,351.10 C588.60,350.29 589.70,348.87 590.80,348.50 C591.90,348.13 593.00,347.80 594.10,347.80 C596.30,347.80 598.50,348.10 600.70,348.10 C602.17,348.10 603.63,347.40 605.10,347.40 C606.43,347.40 607.77,348.50 609.10,348.50 C609.97,348.50 610.83,346.61 611.70,345.20 C612.80,343.41 613.90,338.83 615.00,337.50 C616.10,336.17 617.20,335.86 618.30,334.80 C619.40,333.74 620.50,331.92 621.60,330.90 C622.37,330.19 623.13,329.10 623.90,329.10 C624.63,329.10 625.37,329.37 626.10,329.80 C626.60,330.09 627.10,331.60 627.60,333.10 C628.20,334.90 628.80,339.00 629.40,341.90 C629.83,343.99 630.27,348.10 630.70,348.10 C631.13,348.10 631.57,343.04 632.00,339.70 C632.60,335.07 633.20,326.54 633.80,322.00 C634.37,317.71 634.93,311.50 635.50,311.50 C636.03,311.50 636.57,314.74 637.10,317.60 C637.60,320.28 638.10,328.44 638.60,330.90 C639.07,333.20 639.53,335.70 640.00,335.70 C640.50,335.70 641.00,334.28 641.50,333.10 C642.23,331.37 642.97,326.39 643.70,324.30 C644.20,322.88 644.70,320.90 645.20,320.90 C645.67,320.90 646.13,326.00 646.60,326.00 C646.97,326.00 647.33,323.73 647.70,322.00 C648.20,319.65 648.70,315.00 649.20,311.50" stroke="#4192ab"/>
</g>
<g font-family="Liberation Sans" font-size="8.2" fill="#3a3a3a" stroke="#3a3a3a" stroke-width="0.12">
<text x="67.2" y="410.8" text-anchor="middle" textLength="24" lengthAdjust="spacingAndGlyphs">3900</text>
<text x="150.3" y="410.8" text-anchor="middle" textLength="24" lengthAdjust="spacingAndGlyphs">3400</text>
<text x="233.5" y="410.8" text-anchor="middle" textLength="24" lengthAdjust="spacingAndGlyphs">2900</text>
<text x="316.6" y="410.8" text-anchor="middle" textLength="24" lengthAdjust="spacingAndGlyphs">2400</text>
<text x="399.7" y="410.8" text-anchor="middle" textLength="24" lengthAdjust="spacingAndGlyphs">1900</text>
<text x="482.8" y="410.8" text-anchor="middle" textLength="24" lengthAdjust="spacingAndGlyphs">1400</text>
<text x="566.0" y="410.8" text-anchor="middle" textLength="18" lengthAdjust="spacingAndGlyphs">900</text>
<text x="649.1" y="410.8" text-anchor="middle" textLength="18" lengthAdjust="spacingAndGlyphs">400</text>
</g>
<g font-family="Liberation Sans" font-weight="bold" font-size="11.5" fill="#333" text-anchor="middle">
<text transform="translate(63.6,23.6) scale(1.2,1)">f</text>
<text transform="translate(77,87.8) scale(1.2,1)">e</text>
<text transform="translate(80.8,145.6) scale(1.2,1)">d</text>
<text transform="translate(94,215) scale(1.2,1)">c</text>
<text transform="translate(97.4,272.2) scale(1.2,1)">b</text>
<text transform="translate(93.2,311) scale(1.2,1)">a</text>
</g>
<text x="286.5" y="428.7" font-family="Liberation Sans" font-weight="bold" font-size="11" fill="#1e1e1e" textLength="87.5" lengthAdjust="spacingAndGlyphs">Wavenumber,</text>
<text x="377.5" y="428.7" font-family="Liberation Sans" font-weight="bold" font-size="11" fill="#1e1e1e" textLength="16.5" lengthAdjust="spacingAndGlyphs">cm</text>
<text x="395" y="423.5" font-family="Liberation Sans" font-weight="bold" font-size="7.5" fill="#1e1e1e" textLength="6.5" lengthAdjust="spacingAndGlyphs">-1</text>
<text transform="translate(32.3,207.5) scale(1.3,1) rotate(-90)" text-anchor="middle" font-family="Liberation Sans" font-weight="bold" font-size="11" fill="#1e1e1e">Transmittance, (%)</text>
</svg>
</body></html>
